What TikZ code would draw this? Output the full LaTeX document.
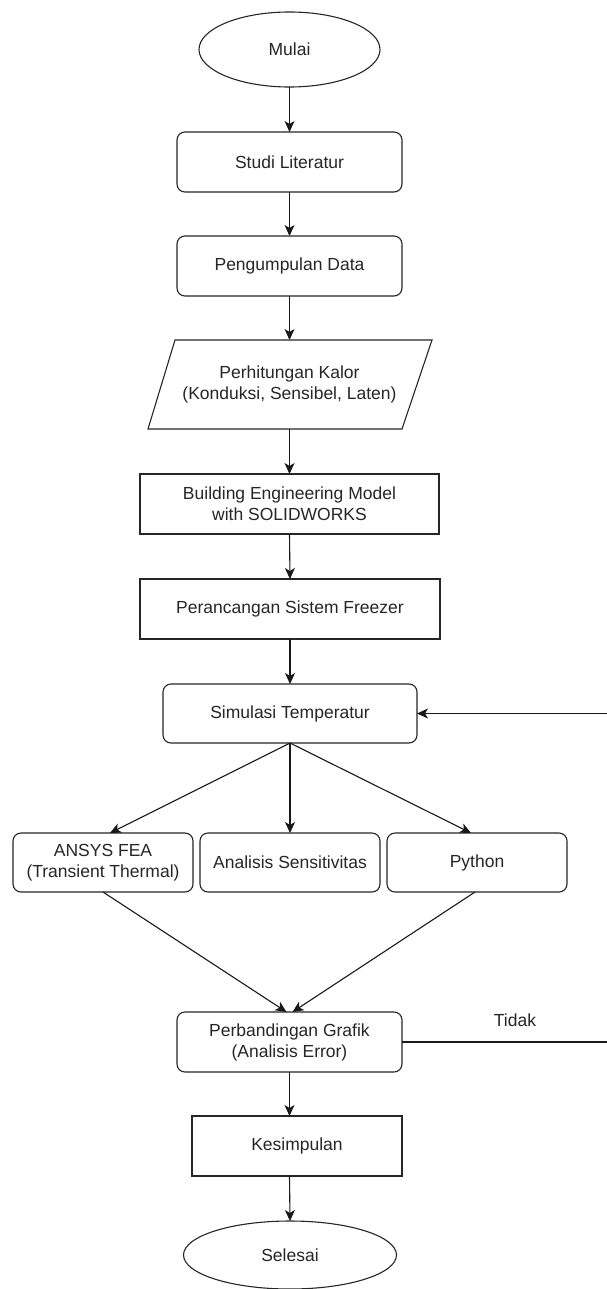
\documentclass[tikz,border=0pt]{standalone}
\usepackage{fontspec}
\setmainfont{Liberation Sans}
\usetikzlibrary{shapes.geometric,arrows.meta,calc}
\begin{document}
\begin{tikzpicture}[x=1pt,y=-1pt,
  every node/.style={font=\fontsize{17.5}{21}\selectfont, align=center, inner sep=0pt, outer sep=0pt, text=black!85},
  base/.style={draw=black!85, line width=1.1pt, fill=white},
  rbox/.style={base, rectangle, rounded corners=8pt},
  sbox/.style={base, rectangle},
  oval/.style={base, ellipse},
  link/.style={line width=1.1pt, draw=black!90, -{Stealth[length=11pt,width=10pt,inset=3pt]}}
]
\useasboundingbox (0,0) rectangle (607,1289);
\clip (0,0) rectangle (607,1289);
\fill[white] (0,0) rectangle (607,1289);

\node[oval, minimum width=181pt, minimum height=75pt] (mulai) at (289.5,49.5) {Mulai};
\node[rbox, minimum width=225pt, minimum height=60pt] (studi) at (289.5,162) {Studi Literatur};
\node[rbox, minimum width=225pt, minimum height=60pt] (kumpul) at (289.5,266) {Pengumpulan Data};
\node[minimum width=257pt, minimum height=89pt] (kalor) at (289.5,384.5) {};
\draw[base] (175,340) -- (432,340) -- (402,429) -- (148,429) -- cycle;
\node at (kalor.center) {Perhitungan Kalor\\(Konduksi, Sensibel, Laten)};
\node[sbox, minimum width=299pt, minimum height=60pt] (build) at (289.5,504) {Building Engineering Model\\with SOLIDWORKS};
\node[sbox, minimum width=300pt, minimum height=60pt] (rancang) at (290,609) {Perancangan Sistem Freezer};
\node[rbox, minimum width=254pt, minimum height=59pt] (sim) at (290,713.5) {Simulasi Temperatur};
\node[rbox, minimum width=180pt, minimum height=59pt] (ansys) at (103,862.5) {ANSYS FEA\\(Transient Thermal)};
\node[rbox, minimum width=180pt, minimum height=59pt] (sens) at (290,862.5) {Analisis Sensitivitas};
\node[rbox, minimum width=180pt, minimum height=59pt] (python) at (477,862.5) {Python};
\node[rbox, minimum width=225pt, minimum height=60pt] (perb) at (289.5,1042) {Perbandingan Grafik\\(Analisis Error)};
\node[sbox, minimum width=210pt, minimum height=60pt] (kesim) at (297,1146) {Kesimpulan};
\node[oval, minimum width=213pt, minimum height=68pt] (selesai) at (290,1255) {Selesai};
\node (tidak) at (515,1020) {Tidak};
\coordinate (loopa) at (620,1042);
\coordinate (loopb) at (620,713.5);

\draw[link] (mulai.south) -- (studi.north);
\draw[link] (studi.south) -- (kumpul.north);
\draw[link] (kumpul.south) -- (kalor.north);
\draw[link] (kalor.south) -- (build.north);
\draw[link] (build.south) -- (rancang.north);
\draw[link] (rancang.south) -- (sim.north);
\draw[link] (sim.south) -- ([xshift=7pt]ansys.north);
\draw[link] (sim.south) -- (sens.north);
\draw[link] (sim.south) -- ([xshift=-6pt]python.north);
\draw[link] (ansys.south) -- ([xshift=-3pt]perb.north);
\draw[link] ([xshift=-2pt]python.south) -- ([xshift=3pt]perb.north);
\draw[link] (perb.south) -- (perb.south |- kesim.north);
\draw[link] (kesim.south -| perb.south) -- (selesai.north);
\draw[link] (perb.east) -- (loopa) -- (loopb) -- (sim.east);
\end{tikzpicture}
\end{document}
